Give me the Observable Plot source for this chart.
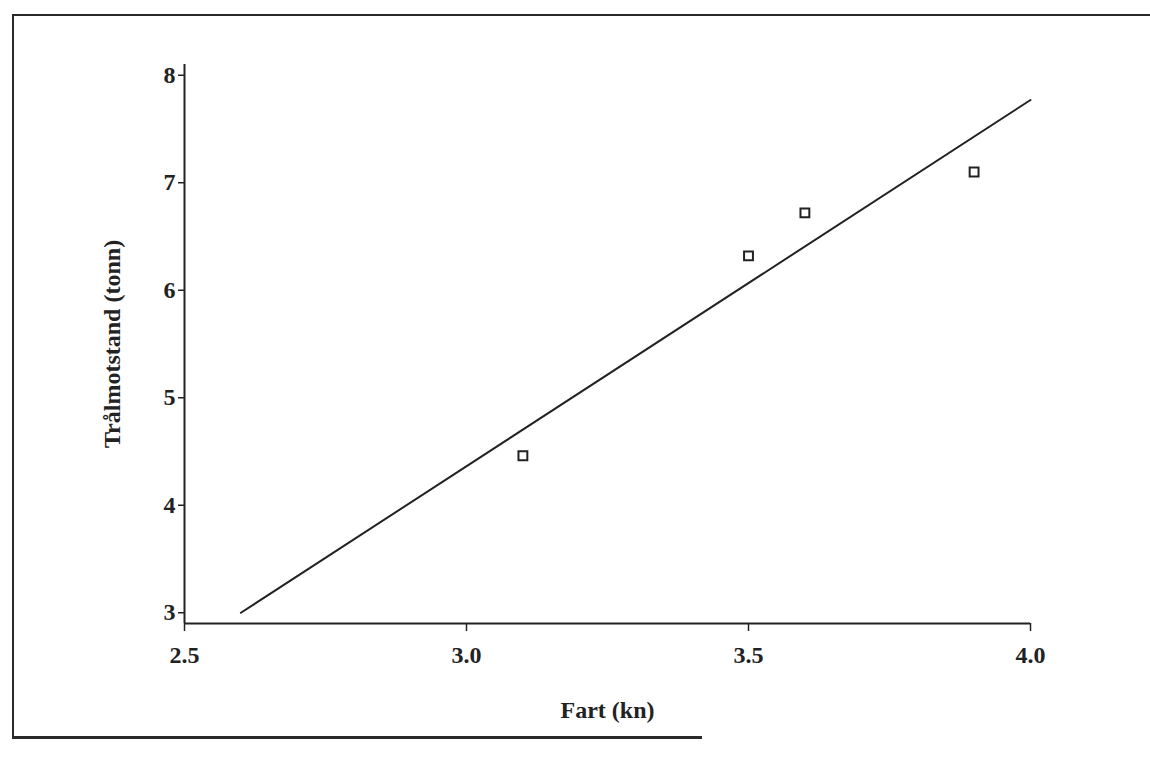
<!DOCTYPE html>
<html>
<head>
<meta charset="utf-8">
<script src="https://cdn.jsdelivr.net/npm/d3@7"></script>
<script src="https://cdn.jsdelivr.net/npm/@observablehq/plot@0.6"></script>
<style>
  html, body { margin: 0; padding: 0; background: #fff; width: 1150px; height: 770px; overflow: hidden; }
  #frame { position: absolute; left: 12px; top: 14px; width: 1160px; height: 722px;
           border-left: 2.5px solid #2a2a2a; border-top: 2.5px solid #2a2a2a; }
  #bottomline { position: absolute; left: 12px; top: 736px; width: 690px; height: 2.5px; background: #2a2a2a; }
  #chart { position: absolute; left: 0; top: 0; }
</style>
</head>
<body>
<div id="frame"></div>
<div id="bottomline"></div>
<div id="chart"></div>
<script>
// Observed data: trawl resistance vs speed
const speed = [3.1, 3.5, 3.6, 3.9];
const resistance = [4.46, 6.32, 6.72, 7.10];
// Fitted line endpoints as drawn
const fitSpeed = [2.6, 4.0];
const fitResistance = [3.0, 7.77];
// Tick values
const xTicks = [2.5, 3.0, 3.5, 4.0];
const yTicks = [3, 4, 5, 6, 7, 8];
const xLabel = "Fart (kn)";
const yLabel = "Trålmotstand (tonn)";

const points = speed.map((s, i) => ({x: s, y: resistance[i]}));
const fit = fitSpeed.map((s, i) => ({x: s, y: fitResistance[i]}));
const ink = "#222";

const chart = Plot.plot({
  width: 1150,
  height: 770,
  marginLeft: 184,
  marginRight: 120,
  marginTop: 64,
  marginBottom: 147,
  x: {domain: [2.5, 4.0]},
  y: {domain: [2.9, 8.1]},
  style: {fontFamily: "'Liberation Serif', serif", fontWeight: "bold", fontSize: "24px", color: ink, background: "transparent"},
  marks: [
    Plot.axisY(yTicks, {tickSize: 6, tickPadding: 3, strokeWidth: 1.5, tickFormat: d3.format("d"), fontSize: 24, label: yLabel, labelAnchor: "center", labelArrow: "none", labelOffset: 82}),
    Plot.axisX(xTicks, {tickSize: 8, tickPadding: 14, strokeWidth: 1.5, tickFormat: d3.format(".1f"), fontSize: 24, label: xLabel, labelAnchor: "center", labelArrow: "none", labelOffset: 94}),
    Plot.ruleX([2.5], {y1: 2.9, y2: 8.1, stroke: ink, strokeWidth: 2}),
    Plot.ruleY([2.9], {x1: 2.5, x2: 4.0, stroke: ink, strokeWidth: 2}),
    Plot.line(fit, {x: "x", y: "y", stroke: ink, strokeWidth: 2}),
    Plot.dot(points, {x: "x", y: "y", symbol: "square", r: 5, stroke: ink, strokeWidth: 2, fill: "white"})
  ]
});
document.getElementById("chart").appendChild(chart);
</script>
</body>
</html>
